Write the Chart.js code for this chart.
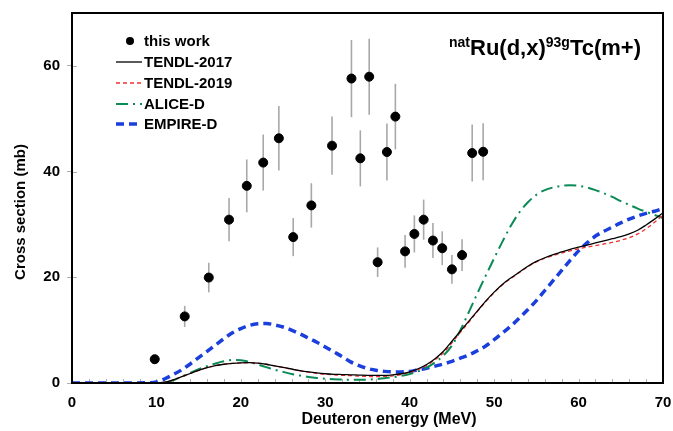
<!DOCTYPE html>
<html>
<head>
<meta charset="utf-8">
<script src="https://cdn.jsdelivr.net/npm/chart.js@4.4.1/dist/chart.umd.min.js"></script>
<style>
  body { margin: 0; background: #fff; }
</style>
</head>
<body>
<canvas id="xs-chart" width="673" height="431"></canvas>
<script>
// measured points (MeV, mb, +/- mb)
const expEnergy = [9.8, 13.35, 16.2, 18.6, 20.7, 22.65, 24.5, 26.2, 28.35, 30.8, 33.1, 34.15, 35.2,
                   36.2, 37.3, 38.3, 39.45, 40.55, 41.65, 42.75, 43.85, 45.0, 46.2, 47.4, 48.7];
const expXs = [4.5, 12.6, 19.95, 30.9, 37.3, 41.7, 46.3, 27.6, 33.6, 44.9, 57.6, 42.5, 57.95,
               22.85, 43.7, 50.4, 24.9, 28.2, 30.9, 26.95, 25.5, 21.5, 24.2, 43.5, 43.75];
const expErr = [0.8, 2.0, 2.8, 4.1, 5.0, 5.3, 6.1, 3.6, 4.2, 5.5, 7.3, 5.3, 7.2,
                2.8, 5.4, 6.2, 3.1, 3.5, 3.8, 3.3, 3.2, 2.7, 3.0, 5.4, 5.4];

// model curves, all on the same energy grid
const curveEnergy = [0, 5, 9, 10, 11, 12, 13, 14, 15, 16, 17, 18, 19, 20, 21, 22, 23, 24, 25, 26, 27, 28, 29,
                     30, 31, 32, 33, 34, 35, 36, 37, 38, 39, 40, 41, 42, 43, 44, 45, 46, 47, 48, 49,
                     50, 51, 52, 53, 54, 55, 56, 57, 58, 59, 60, 61, 62, 63, 64, 65, 66, 67, 68, 69, 70];
const tendl2017 = [0, 0, 0, 0, 0.15, 0.6, 1.2, 1.8, 2.4, 2.9, 3.3, 3.55, 3.7, 3.8, 3.85, 3.75, 3.55, 3.25, 2.95, 2.65, 2.35, 2.1, 1.9,
                   1.75, 1.65, 1.6, 1.55, 1.5, 1.45, 1.45, 1.45, 1.55, 1.75, 2.1, 2.7, 3.5, 4.6, 6.0, 7.9, 9.8, 11.7, 13.6, 15.5,
                   17.2, 18.7, 19.9, 21.0, 22.1, 23.0, 23.7, 24.3, 24.8, 25.3, 25.7, 26.1, 26.5, 26.9, 27.3, 27.7, 28.2, 28.9, 29.9, 31.0, 32.2];
const tendl2019 = [0, 0, 0, 0, 0.15, 0.6, 1.2, 1.8, 2.4, 2.9, 3.3, 3.55, 3.7, 3.8, 3.85, 3.75, 3.55, 3.25, 2.95, 2.6, 2.3, 2.05, 1.8,
                   1.65, 1.55, 1.45, 1.4, 1.3, 1.25, 1.2, 1.25, 1.35, 1.6, 2.0, 2.55, 3.3, 4.4, 5.7, 7.6, 9.6, 11.5, 13.5, 15.4,
                   17.1, 18.6, 19.8, 20.9, 22.0, 22.9, 23.6, 24.1, 24.6, 25.0, 25.4, 25.7, 26.0, 26.3, 26.6, 27.0, 27.5, 28.2, 29.2, 30.4, 31.8];
const aliceD = [0, 0, 0, 0, 0.1, 0.5, 1.2, 1.9, 2.6, 3.2, 3.7, 4.1, 4.35, 4.3, 4.0, 3.5, 3.0, 2.5, 2.1, 1.7, 1.4, 1.15, 0.95,
                0.8, 0.7, 0.65, 0.6, 0.6, 0.65, 0.75, 0.9, 1.1, 1.35, 1.7, 2.2, 2.9, 3.9, 5.2, 7.1, 10.0, 13.4, 16.9, 20.3,
                23.6, 26.8, 29.8, 32.3, 34.2, 35.6, 36.5, 37.0, 37.3, 37.4, 37.3, 37.0, 36.5, 35.9, 35.2, 34.4, 33.7, 33.0, 32.4, 31.8, 31.2];
const empireD = [0, 0, 0.05, 0.2, 0.8, 1.6, 2.5, 3.6, 4.8, 6.0, 7.2, 8.4, 9.5, 10.3, 10.9, 11.2, 11.25, 11.0, 10.6, 10.0, 9.3, 8.5, 7.7,
                 6.8, 5.9, 5.0, 4.0, 3.3, 2.75, 2.4, 2.2, 2.1, 2.1, 2.2, 2.5, 2.8, 3.2, 3.6, 4.1, 4.7, 5.3, 6.1, 7.0,
                 8.2, 9.5, 10.8, 12.3, 13.9, 15.6, 17.5, 19.4, 21.3, 23.2, 25.0, 26.5, 27.8, 28.7, 29.5, 30.3, 31.0, 31.6, 32.1, 32.5, 33.0];

const xTicks = [0, 10, 20, 30, 40, 50, 60, 70];
const yTicks = [0, 20, 40, 60];

const FONT = "'Liberation Sans', Arial, sans-serif";
const toPoints = (xs, ys) => xs.map((x, i) => ({ x, y: ys[i] }));

const curve = (label, values, color, width, dash) => ({
  type: 'line',
  label,
  data: toPoints(curveEnergy, values),
  borderColor: color,
  borderWidth: width,
  borderDash: dash,
  pointRadius: 0,
  fill: false,
  cubicInterpolationMode: 'monotone'
});

// error bars, minor ticks, frame, legend and labels
const decor = {
  id: 'decor',
  beforeDatasetsDraw(chart) {
    const { ctx, chartArea: a, scales: { x, y } } = chart;
    ctx.save();
    ctx.strokeStyle = '#b0b0b0';
    ctx.lineWidth = 1;
    for (let e = 2; e < 70; e += 2) {
      const px = Math.round(x.getPixelForValue(e)) + 0.5;
      ctx.beginPath();
      ctx.moveTo(px, a.bottom);
      ctx.lineTo(px, a.bottom - 4);
      ctx.stroke();
    }
    yTicks.forEach(v => {
      const py = Math.round(y.getPixelForValue(v)) + 0.5;
      ctx.beginPath();
      ctx.moveTo(a.left, py);
      ctx.lineTo(a.left + 5, py);
      ctx.stroke();
    });
    ctx.strokeStyle = '#a8a8a8';
    ctx.lineWidth = 1.6;
    expEnergy.forEach((e, i) => {
      const px = x.getPixelForValue(e);
      ctx.beginPath();
      ctx.moveTo(px, y.getPixelForValue(expXs[i] - expErr[i]));
      ctx.lineTo(px, y.getPixelForValue(expXs[i] + expErr[i]));
      ctx.stroke();
    });
    ctx.restore();
  },
  afterDatasetsDraw(chart) {
    const { ctx, chartArea: a } = chart;
    ctx.save();
    ctx.strokeStyle = '#000';
    ctx.lineWidth = 2;
    ctx.strokeRect(a.left, a.top, a.right - a.left, a.bottom - a.top);

    // legend
    const rows = [41, 62, 83, 104, 124];
    ctx.font = `bold 15px ${FONT}`;
    ctx.fillStyle = '#000';
    ctx.textAlign = 'left';
    ctx.textBaseline = 'middle';
    chart.data.datasets.forEach((ds, i) => {
      const ry = rows[i];
      if (ds.type === 'line') {
        ctx.beginPath();
        ctx.strokeStyle = ds.borderColor;
        ctx.lineWidth = ds.borderWidth;
        ctx.setLineDash(ds.borderDash || []);
        ctx.moveTo(116, ry);
        ctx.lineTo(142, ry);
        ctx.stroke();
        ctx.setLineDash([]);
      } else {
        ctx.beginPath();
        ctx.fillStyle = ds.backgroundColor;
        ctx.arc(130, ry, 4, 0, Math.PI * 2);
        ctx.fill();
      }
      ctx.fillStyle = '#000';
      ctx.fillText(ds.label, 144, ry + 1);
    });

    // reaction label, right aligned inside the frame
    const parts = [['nat', 14, 47], ['Ru(d,x)', 22, 55], ['93g', 14, 47], ['Tc(m+)', 22, 55]];
    ctx.textBaseline = 'alphabetic';
    let total = 0;
    parts.forEach(([t, s]) => { ctx.font = `bold ${s}px ${FONT}`; total += ctx.measureText(t).width; });
    let tx = 641 - total;
    parts.forEach(([t, s, base]) => {
      ctx.font = `bold ${s}px ${FONT}`;
      ctx.fillText(t, tx, base);
      tx += ctx.measureText(t).width;
    });

    // axis titles
    ctx.font = `bold 16px ${FONT}`;
    ctx.textAlign = 'center';
    ctx.fillText('Deuteron energy (MeV)', 389, 424);
    ctx.font = `bold 15px ${FONT}`;
    ctx.translate(25, 212);
    ctx.rotate(-Math.PI / 2);
    ctx.fillText('Cross section (mb)', 0, 0);
    ctx.restore();
  }
};

new Chart(document.getElementById('xs-chart'), {
  type: 'scatter',
  data: {
    datasets: [
      {
        label: 'this work',
        data: toPoints(expEnergy, expXs),
        backgroundColor: '#000',
        borderColor: '#000',
        pointRadius: 4.5,
        pointHoverRadius: 4.5
      },
      curve('TENDL-2017', tendl2017, '#000000', 1.3, []),
      curve('TENDL-2019', tendl2019, '#f03030', 1.3, [4, 3]),
      curve('ALICE-D', aliceD, '#0a8a55', 2, [12, 5, 2, 5]),
      curve('EMPIRE-D', empireD, '#1a3fdc', 3.5, [8, 5])
    ]
  },
  options: {
    responsive: false,
    animation: false,
    events: [],
    layout: { padding: { top: 13, right: 10, left: 0, bottom: 0 } },
    plugins: { legend: { display: false }, tooltip: { enabled: false } },
    scales: {
      x: {
        type: 'linear',
        min: 0,
        max: 70,
        afterFit: s => { s.height = 48; s.paddingLeft = 0; s.paddingRight = 0; },
        afterBuildTicks: s => { s.ticks = xTicks.map(v => ({ value: v })); },
        grid: { display: false },
        border: { display: false },
        ticks: { color: '#000', font: { family: FONT, size: 15, weight: 'bold' }, padding: 3, maxRotation: 0 }
      },
      y: {
        type: 'linear',
        min: 0,
        max: 70,
        afterFit: s => { s.width = 72; s.paddingTop = 0; s.paddingBottom = 0; },
        afterBuildTicks: s => { s.ticks = yTicks.map(v => ({ value: v })); },
        grid: { drawOnChartArea: false, tickLength: 5, color: '#b0b0b0' },
        border: { display: false },
        ticks: { color: '#000', font: { family: FONT, size: 15, weight: 'bold' }, padding: 7 }
      }
    }
  },
  plugins: [decor]
});
</script>
</body>
</html>
